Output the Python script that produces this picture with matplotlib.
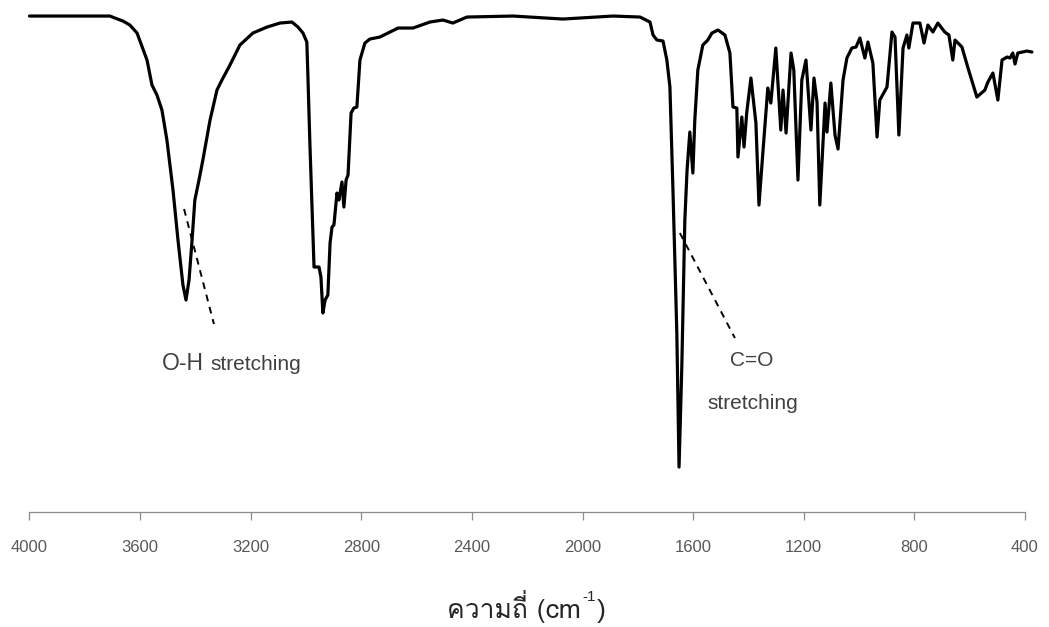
import matplotlib
matplotlib.use("Agg")
import matplotlib.pyplot as plt
import matplotlib.font_manager as fm
from matplotlib.ft2font import FT2Font

# ---------------- data ----------------
wavenumber = [4000, 3709, 3691, 3662, 3637, 3611, 3575, 3557, 3539, 3521, 3503, 3481,
              3463, 3445, 3434, 3423, 3412, 3402, 3387, 3373, 3347, 3322, 3304, 3275,
              3239, 3192, 3141, 3094, 3051, 3029, 3011, 2997, 2993, 2986, 2978, 2971,
              2953, 2946, 2939, 2931, 2921, 2913, 2906, 2899, 2888, 2881, 2870, 2863,
              2855, 2848, 2837, 2827, 2816, 2805, 2787, 2769, 2733, 2696, 2667, 2613,
              2552, 2505, 2469, 2418, 2252, 2071, 1890, 1792, 1756, 1745, 1731, 1709,
              1695, 1684, 1673, 1659, 1651, 1641, 1630, 1622, 1612, 1601, 1594, 1583,
              1565, 1547, 1532, 1510, 1485, 1467, 1456, 1442, 1438, 1424, 1416, 1406,
              1391, 1373, 1362, 1348, 1330, 1319, 1301, 1283, 1275, 1264, 1246, 1236,
              1221, 1207, 1192, 1174, 1163, 1152, 1142, 1123, 1116, 1102, 1087, 1076,
              1058, 1044, 1026, 1011, 997, 979, 968, 950, 935, 925, 899, 881,
              870, 856, 841, 827, 820, 805, 780, 765, 751, 733, 715, 690,
              675, 661, 653, 628, 606, 574, 545, 534, 516, 498, 483, 465,
              454, 444, 436, 426, 393, 375]
transmittance = [99.2, 99.2, 98.8, 98.2, 97.4, 95.8, 90.4, 85.4, 83.4, 80.4, 74.4, 64.4,
                 54.4, 45.4, 42.4, 46.4, 54.4, 62.4, 66.4, 70.4, 78.4, 84.4, 86.4, 89.4,
                 93.4, 95.8, 97.0, 97.8, 98.0, 97.0, 95.8, 94.0, 87.0, 73.8, 60.4, 49.0,
                 49.0, 47.0, 39.8, 42.4, 43.4, 53.8, 57.0, 57.4, 63.8, 62.4, 66.0, 61.0,
                 66.4, 67.4, 79.8, 80.8, 81.0, 90.4, 93.8, 94.6, 95.0, 96.0, 96.8, 96.8,
                 98.0, 98.4, 97.8, 99.0, 99.2, 98.6, 99.2, 99.0, 98.0, 95.4, 94.4, 94.2,
                 90.4, 85.0, 64.4, 35.8, 9.0, 29.0, 58.4, 68.4, 76.0, 67.8, 78.4, 88.4,
                 93.4, 94.4, 95.8, 96.4, 95.4, 91.8, 81.0, 80.8, 71.0, 79.0, 73.0, 80.0,
                 86.8, 77.8, 61.4, 71.8, 84.8, 81.8, 92.8, 76.4, 84.4, 75.8, 91.8, 88.4,
                 66.4, 86.4, 90.4, 76.4, 86.8, 82.0, 61.4, 81.8, 76.0, 85.8, 75.4, 72.6,
                 86.4, 90.8, 92.8, 93.0, 94.8, 90.8, 94.0, 89.8, 75.0, 82.4, 85.0, 96.0,
                 95.0, 75.4, 92.8, 95.4, 92.8, 97.8, 97.8, 93.8, 97.4, 96.0, 97.8, 96.0,
                 95.4, 90.4, 94.4, 93.0, 88.8, 83.0, 84.4, 86.0, 87.8, 82.4, 90.4, 91.0,
                 90.8, 91.8, 89.6, 91.8, 92.2, 92.0]

tick_values = [4000, 3600, 3200, 2800, 2400, 2000, 1600, 1200, 800, 400]

oh_line_wn = [3441, 3333]
oh_line_t = [60.6, 37.6]
co_line_wn = [1648, 1449]
co_line_t = [55.8, 34.8]

x_label_thai = "ความถี่ (cm"
x_label_sup = "-1"
x_label_end = ")"


# ---------------- fonts ----------------
def find_thai_font():
    checked = set()
    for f in fm.fontManager.ttflist:
        checked.add(f.fname)
        try:
            cmap = FT2Font(f.fname).get_charmap()
        except Exception:
            continue
        if 0x0E04 in cmap and 0x0E21 in cmap and 0x0E35 in cmap:
            return f.name
    try:
        paths = fm.findSystemFonts()
    except Exception:
        paths = []
    for p in paths:
        if p in checked:
            continue
        try:
            cmap = FT2Font(p).get_charmap()
        except Exception:
            continue
        if 0x0E04 in cmap and 0x0E21 in cmap and 0x0E35 in cmap:
            try:
                fm.fontManager.addfont(p)
                return fm.FontProperties(fname=p).get_name()
            except Exception:
                continue
    return None


thai = find_thai_font()
latin = ['Liberation Sans', 'DejaVu Sans']
label_family = ([thai] if thai else []) + latin

plt.rcParams['font.family'] = latin

# ---------------- figure ----------------
fig = plt.figure(figsize=(10.49, 6.27), dpi=100)
ax = fig.add_axes([0.0281, 0.1834, 0.9490, 0.7974])
ax.set_xlim(4000, 400)
ax.set_ylim(0, 100)

ax.plot(wavenumber, transmittance, color='black', lw=2.3,
        solid_joinstyle='round', solid_capstyle='round', clip_on=False)

ax.plot(oh_line_wn, oh_line_t, color='black', lw=1.4, ls=(0, (3.5, 3)))
ax.plot(co_line_wn, co_line_t, color='black', lw=1.4, ls=(0, (3.5, 3)))

for s in ['left', 'right', 'top']:
    ax.spines[s].set_visible(False)
ax.spines['bottom'].set_color('#8c8c8c')
ax.spines['bottom'].set_linewidth(0.9)

ax.set_yticks([])
ax.set_xticks(tick_values)
ax.set_xticklabels([str(v) for v in tick_values])
ax.tick_params(axis='x', direction='out', length=5.5, width=0.9,
               color='#8c8c8c', pad=14.5, labelsize=12, labelcolor='#595959')

txt_color = '#404040'
t_oh = ax.text(3521, 28.4, "O-H", fontsize=16.5, color=txt_color,
               ha='left', va='baseline')
ax.annotate("stretching", xy=(1, 28.4), xycoords=(t_oh, 'data'),
            xytext=(4.5, 0), textcoords='offset points', fontsize=15,
            color=txt_color, ha='left', va='baseline', annotation_clip=False)
ax.text(1387, 30.4, "C=O", fontsize=15, color=txt_color, ha='center', va='center')
ax.text(1384, 21.8, "stretching", fontsize=15, color=txt_color, ha='center', va='center')

# axis label with superscript
t1 = fig.text(0.426, 0.0150, x_label_thai, fontsize=19, family=label_family,
              color='#262626', ha='left', va='baseline')
t2 = ax.annotate(x_label_sup, xy=(1, 0.0150), xycoords=(t1, 'figure fraction'),
                 xytext=(1, 12), textcoords='offset points', fontsize=11,
                 family=latin, color='#262626', ha='left', va='baseline',
                 annotation_clip=False)
ax.annotate(x_label_end, xy=(1, 0.0150), xycoords=(t2, 'figure fraction'),
            xytext=(1, 0), textcoords='offset points', fontsize=19,
            family=latin, color='#262626', ha='left', va='baseline',
            annotation_clip=False)

fig.savefig("out.png", dpi=100)
